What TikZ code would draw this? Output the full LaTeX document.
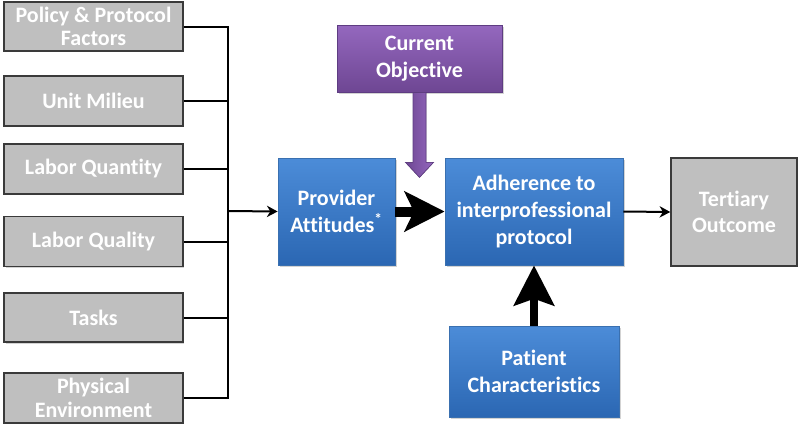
\documentclass[tikz,border=0pt]{standalone}
\usepackage{fontspec}
\setmainfont{Carlito}[Ligatures=NoCommon]
\usetikzlibrary{arrows.meta,shadows,calc}
\definecolor{greyfill}{HTML}{BFBFBF}
\definecolor{greyline}{HTML}{3A3A3A}
\definecolor{blueTop}{HTML}{4C8CD8}
\definecolor{blueBot}{HTML}{2B67B3}
\definecolor{blueLine}{HTML}{3A70B0}
\definecolor{purpTop}{HTML}{9468BE}
\definecolor{purpBot}{HTML}{6E4693}
\definecolor{purpLine}{HTML}{5E3C82}
\begin{document}
\begin{tikzpicture}[x=0.75pt,y=-0.75pt,
  lbl/.style={text=white,font=\bfseries\fontsize{16.5}{20}\selectfont,align=center,inner sep=0pt},
  greybox/.style={lbl,font=\bfseries\fontsize{16.5}{17.5}\selectfont,rectangle,fill=greyfill,draw=greyline,line width=1.1pt,
     minimum width=134pt,drop shadow={shadow xshift=1pt,shadow yshift=-1pt,opacity=0.35}},
  bluebox/.style={lbl,rectangle,top color=blueTop,bottom color=blueBot,draw=blueLine,line width=0.6pt,
     drop shadow={shadow xshift=1.2pt,shadow yshift=-1.2pt,opacity=0.35}},
  purpbox/.style={lbl,rectangle,top color=purpTop,bottom color=purpBot,draw=purpLine,line width=0.6pt,
     drop shadow={shadow xshift=1.2pt,shadow yshift=-1.2pt,opacity=0.35}},
  thin/.style={line width=1.5pt,-{Stealth[length=8pt,width=8.5pt,inset=2.5pt]}},
  bus/.style={line width=1.5pt}
]
\useasboundingbox (0,0) rectangle (800,429);

% grey factor boxes
\node[greybox,minimum height=36.75pt] (g1) at (93.5,26.5) {Policy \& Protocol\\Factors};
\node[greybox,minimum height=37.5pt] (g2) at (93.5,101) {Unit Milieu};
\node[greybox,minimum height=37.5pt] (g3) at (93.5,169) {Labor Quantity};
\node[greybox,minimum height=37.5pt] (g4) at (93.5,241.5) {Labor Quality};
\node[greybox,minimum height=37pt] (g5) at (93.5,317.5) {Tasks};
\node[greybox,minimum height=37.5pt] (g6) at (93.5,398) {Physical\\Environment};

% main boxes
\node[bluebox,minimum width=87.75pt,minimum height=80.25pt] (prov) at (336.5,211.5) {Provider\\Attitudes\textsuperscript{*}};
\node[bluebox,minimum width=133.5pt,minimum height=80.25pt] (adh) at (534,211.5) {Adherence to\\interprofessional\\protocol};
\node[purpbox,minimum width=123.75pt,minimum height=50.25pt] (cur) at (419.5,58.5) {Current\\Objective};
\node[greybox,font=\bfseries\fontsize{16.5}{20}\selectfont,minimum width=94.5pt,minimum height=81pt] (ter) at (734,212) {Tertiary\\Outcome};
\node[bluebox,minimum width=127.5pt,minimum height=68.25pt] (pat) at (534,371.5) {Patient\\Characteristics};

% bus
\coordinate (busj) at (228,211);
\foreach \g in {g1,g2,g3,g4,g5,g6} {
  \draw[bus] (\g.east) -| (busj);
}
\draw[thin] (busj) -- (prov.west);
\draw[thin] (adh.east) -- (ter.west);

% thick black arrow provider -> adherence
\draw[line width=7.5pt,-{Stealth[length=30pt,width=30pt,inset=7pt]}] (prov.east) -- (adh.west);

% patient -> adherence
\draw[line width=6pt,-{Stealth[length=30pt,width=30pt,inset=5pt]}] (pat.north) -- (adh.south);

% purple block arrow from current objective
\coordinate (ptip) at ($(cur.south)+(0,85)$);
\fill[left color=purpBot,right color=purpTop,draw=purpLine,line width=0.5pt]
  ($(cur.south)+(-6.5,0)$) -- ($(cur.south)+(6.5,0)$) -- ($(cur.south)+(6.5,70)$) --
  ($(cur.south)+(14,70)$) -- (ptip) -- ($(cur.south)+(-14,70)$) -- ($(cur.south)+(-6.5,70)$) -- cycle;
\end{tikzpicture}
\end{document}
